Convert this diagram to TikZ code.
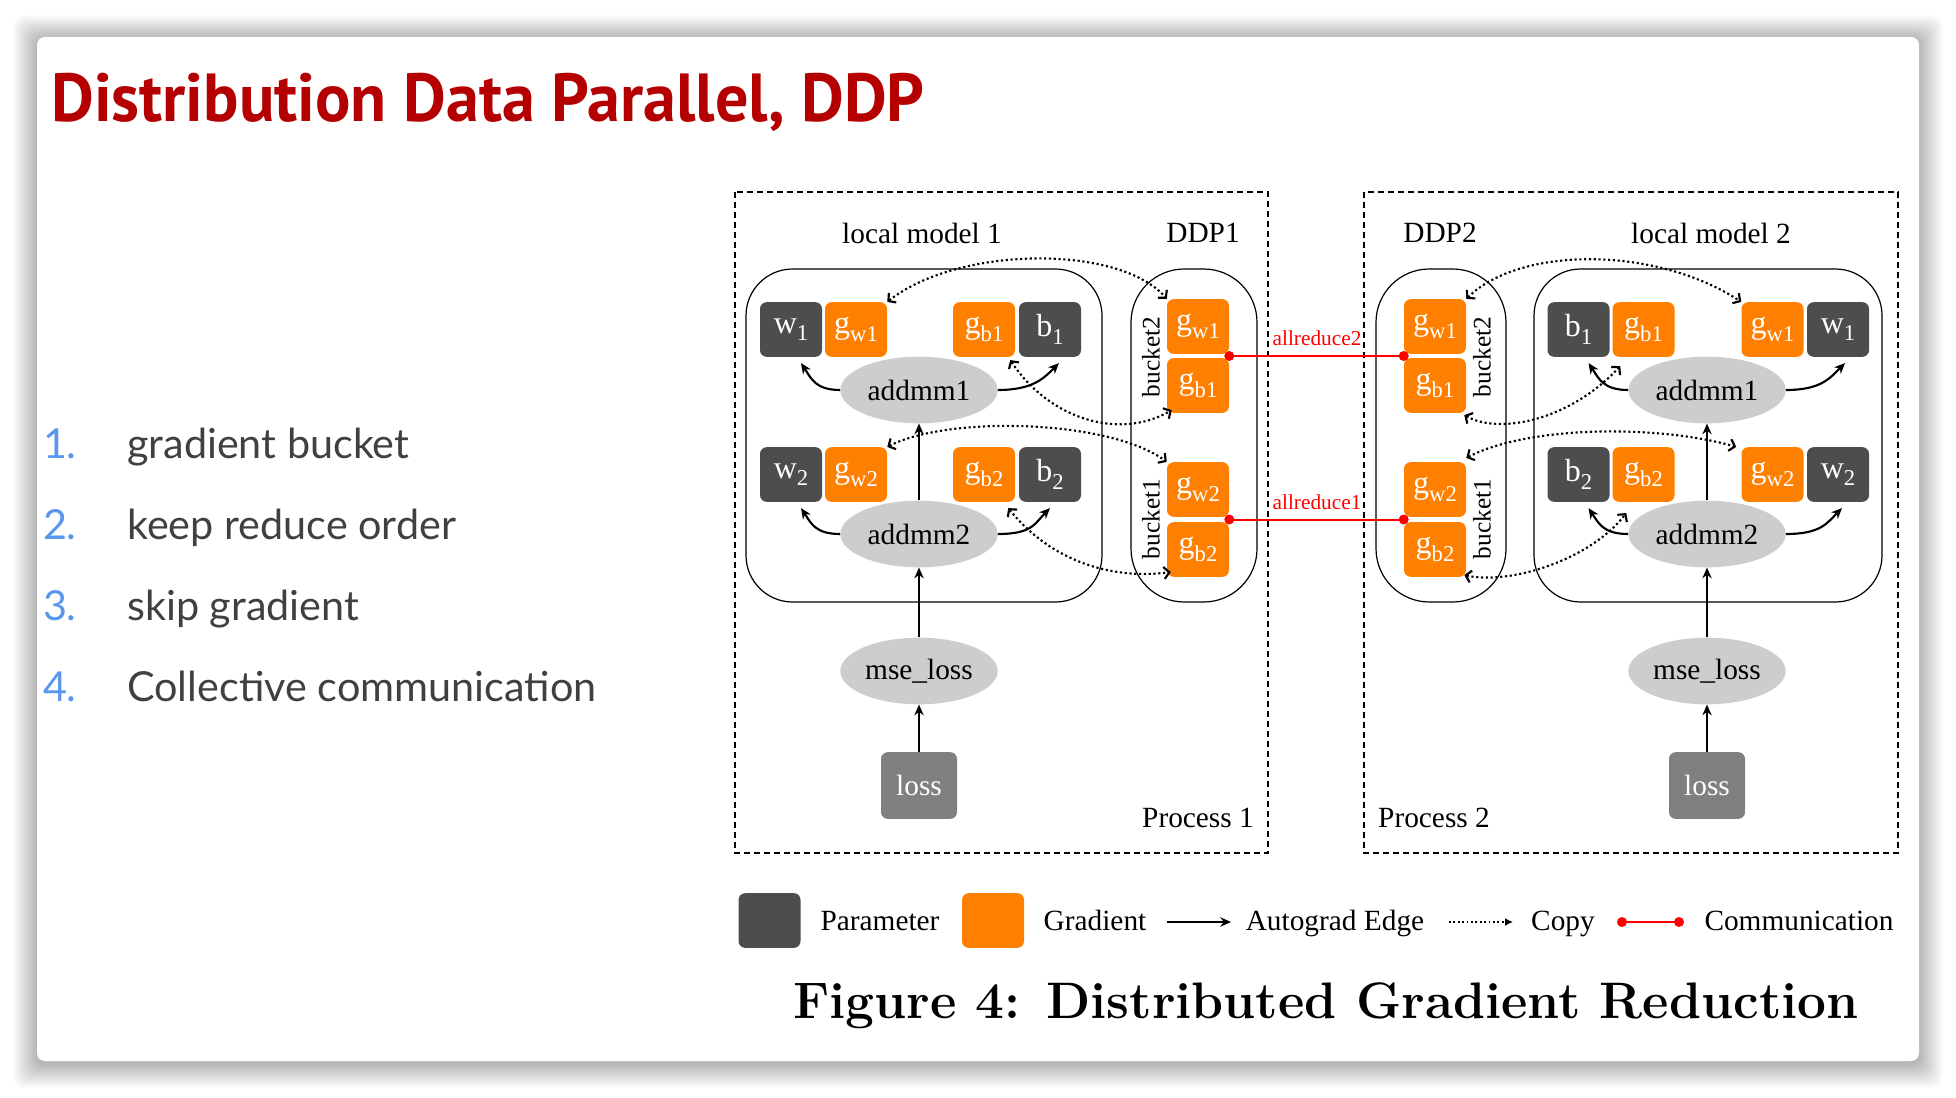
\documentclass[tikz,border=0pt]{standalone}
\usepackage{fontspec}
\usetikzlibrary{arrows.meta,calc,shapes.geometric}
\newfontfamily\timesfont{Liberation Serif}
\newfontfamily\titlefont{PT Sans}
\newfontfamily\listfont{Lato}
\definecolor{paramgray}{RGB}{77,77,77}
\definecolor{gradorange}{RGB}{255,128,0}
\definecolor{opgray}{RGB}{205,205,205}
\definecolor{lossgray}{RGB}{128,128,128}
\definecolor{titlered}{RGB}{180,0,0}
\definecolor{listblue}{RGB}{88,150,240}
\definecolor{listgray}{RGB}{64,64,64}
\definecolor{commred}{RGB}{255,0,0}
\newcommand{\gsub}[2]{#1\raisebox{-0.5ex}{\fontsize{17}{17}\selectfont #2}}
\tikzset{
    tensor/.style={rounded corners=5pt, minimum width=46.5pt, minimum height=41pt, inner sep=0pt, text=white, font=\fontsize{24}{24}\timesfont},
    param/.style={tensor, fill=paramgray},
    grad/.style={tensor, fill=gradorange},
    op/.style={ellipse, fill=opgray, minimum width=118pt, minimum height=50pt, inner sep=0pt, font=\fontsize{22}{24}\timesfont},
    lossbox/.style={rounded corners=5pt, fill=lossgray, minimum width=57pt, minimum height=50pt, inner sep=0pt, text=white, font=\fontsize{22}{24}\timesfont},
    txt/.style={inner sep=0pt, font=\fontsize{22}{24}\timesfont},
    autograd/.style={line width=1.6pt, -{Stealth[length=8pt,width=7pt]}},
    copyedge/.style={line width=1.6pt, dotted, {Straight Barb[length=4pt,width=9pt]}-{Straight Barb[length=4pt,width=9pt]}},
    comm/.style={line width=1.5pt, commred},
    procbox/.style={line width=1.6pt, dash pattern=on 4.5pt off 3pt},
    modelbox/.style={line width=0.9pt, rounded corners=35pt},
}
\begin{document}
\begin{tikzpicture}[x=0.75pt,y=0.75pt,yscale=-1,xscale=1]
    \fill[white] (0,0) rectangle (1956,1098);
    \useasboundingbox (0,0) rectangle (1956,1098);
    %card with soft shadow
    \foreach \d in {1, ..., 24} {
        \fill[black, opacity=0.011, rounded corners=8pt] (37 - \d, 39 - \d) rectangle (1919 + \d, 1064 + \d);
    }
    \fill[white, rounded corners=6pt] (37,37) rectangle (1919,1061);
    %
    %title and list
    \node[anchor=base west, inner sep=0pt, text=titlered] (title) at (51,122) {\resizebox{655pt}{\height}{\fontsize{51}{60}\titlefont\bfseries Distribution Data Parallel, DDP}};
    \foreach \n/\t [count=\i] in {1./gradient bucket, 2./keep reduce order, 3./skip gradient, 4./Collective communication} {
        \node[anchor=base east, inner sep=0pt, text=listblue, font=\fontsize{31}{36}\listfont] (num\i) at (77, {458 + (\i - 1) * 81}) {\n};
        \node[anchor=base west, inner sep=0pt, text=listgray, font=\fontsize{31}{36}\listfont] (item\i) at (127, {458 + (\i - 1) * 81}) {\t};
    }
    %
    %process boxes
    \draw[procbox] (735,192) rectangle (1268,853);
    \draw[procbox] (1364,192) rectangle (1898,853);
    \draw[modelbox] (746,269) rectangle (1102,602);
    \draw[modelbox, rounded corners=40pt] (1131,269) rectangle (1257,602);
    \draw[modelbox, rounded corners=40pt] (1376,269) rectangle (1506,602);
    \draw[modelbox] (1534,269) rectangle (1882,602);
    \node[txt] (lmA) at (922,233) {local model 1};
    \node[txt] (ddpA) at (1203,233) {DDP1};
    \node[txt] (ddpB) at (1440,233) {DDP2};
    \node[txt] (lmB) at (1711,233) {local model 2};
    \node[txt] (procA) at (1198,818) {Process 1};
    \node[txt] (procB) at (1434,818) {Process 2};
    %
    %local model 1
    \node[param] (wA1) at (791,329.5) {\gsub{w}{1}};
    \node[grad] (gwA1) at (856,329.5) {\gsub{g}{w1}};
    \node[grad] (gbA1) at (984,329.5) {\gsub{g}{b1}};
    \node[param] (bA1) at (1050,329.5) {\gsub{b}{1}};
    \node[param] (wA2) at (791,474.5) {\gsub{w}{2}};
    \node[grad] (gwA2) at (856,474.5) {\gsub{g}{w2}};
    \node[grad] (gbA2) at (984,474.5) {\gsub{g}{b2}};
    \node[param] (bA2) at (1050,474.5) {\gsub{b}{2}};
    \node[op] (addA1) at (919,390) {addmm1};
    \node[op] (addA2) at (919,534) {addmm2};
    \node[op] (mseA) at (919,671) {mse\_loss};
    \node[lossbox] (lossA) at (919,785.5) {loss};
    %DDP1
    \node[grad] (dgwA1) at (1198,326.5) {\gsub{g}{w1}};
    \node[grad] (dgbA1) at (1198,385.5) {\gsub{g}{b1}};
    \node[grad] (dgwA2) at (1198,489.5) {\gsub{g}{w2}};
    \node[grad] (dgbA2) at (1198,549.5) {\gsub{g}{b2}};
    \node[txt, rotate=90, font=\fontsize{19}{20}\timesfont] (bkA2) at (1151,357) {bucket2};
    \node[txt, rotate=90, font=\fontsize{19}{20}\timesfont] (bkA1) at (1151,519) {bucket1};
    %
    %local model 2
    \node[param] (bB1) at (1578.5,329.5) {\gsub{b}{1}};
    \node[grad] (gbB1) at (1643.5,329.5) {\gsub{g}{b1}};
    \node[grad] (gwB1) at (1772.5,329.5) {\gsub{g}{w1}};
    \node[param] (wB1) at (1838,329.5) {\gsub{w}{1}};
    \node[param] (bB2) at (1578.5,474.5) {\gsub{b}{2}};
    \node[grad] (gbB2) at (1643.5,474.5) {\gsub{g}{b2}};
    \node[grad] (gwB2) at (1772.5,474.5) {\gsub{g}{w2}};
    \node[param] (wB2) at (1838,474.5) {\gsub{w}{2}};
    \node[op] (addB1) at (1707,390) {addmm1};
    \node[op] (addB2) at (1707,534) {addmm2};
    \node[op] (mseB) at (1707,671) {mse\_loss};
    \node[lossbox] (lossB) at (1707,785.5) {loss};
    %DDP2
    \node[grad] (dgwB1) at (1435,326.5) {\gsub{g}{w1}};
    \node[grad] (dgbB1) at (1435,385.5) {\gsub{g}{b1}};
    \node[grad] (dgwB2) at (1435,489.5) {\gsub{g}{w2}};
    \node[grad] (dgbB2) at (1435,549.5) {\gsub{g}{b2}};
    \node[txt, rotate=90, font=\fontsize{19}{20}\timesfont] (bkB2) at (1482,357) {bucket2};
    \node[txt, rotate=90, font=\fontsize{19}{20}\timesfont] (bkB1) at (1482,519) {bucket1};
    %
    %autograd edges
    \draw[autograd] (lossA) -- (mseA);
    \draw[autograd] (mseA) -- (addA2);
    \draw[autograd] (addA2) -- (addA1);
    \draw[autograd] (lossB) -- (mseB);
    \draw[autograd] (mseB) -- (addB2);
    \draw[autograd] (addB2) -- (addB1);
    \draw[autograd] (addA1.west) .. controls +(-25,0) and +(10,15) .. ($(wA1.south)+(10,6)$);
    \draw[autograd] (addA1.east) .. controls +(35,0) and +(-15,15) .. ($(bA1.south)+(9,6)$);
    \draw[autograd] (addA2.west) .. controls +(-25,0) and +(10,15) .. ($(wA2.south)+(10,6)$);
    \draw[autograd] (addA2.east) .. controls +(35,0) and +(-15,15) .. ($(bA2.south)+(0,6)$);
    \draw[autograd] (addB1.west) .. controls +(-25,0) and +(10,15) .. ($(bB1.south)+(10,6)$);
    \draw[autograd] (addB1.east) .. controls +(35,0) and +(-15,15) .. ($(wB1.south)+(7,6)$);
    \draw[autograd] (addB2.west) .. controls +(-25,0) and +(10,15) .. ($(bB2.south)+(10,6)$);
    \draw[autograd] (addB2.east) .. controls +(35,0) and +(-15,15) .. ($(wB2.south)+(4,6)$);
    %
    %copy edges
    \draw[copyedge] (gwA1.north east) .. controls (960,245) and (1120,245) .. (dgwA1.north west);
    \draw[copyedge] ($(gbA1.south east)+(-5,3)$) .. controls (1050,420) and (1120,440) .. ($(dgbA1.south west)+(5,-3)$);
    \draw[copyedge] (gwA2.north east) .. controls (950,415) and (1110,420) .. (dgwA2.north west);
    \draw[copyedge] ($(gbA2.south east)+(-7,6)$) .. controls (1050,560) and (1110,580) .. ($(dgbA2.south west)+(4,-5)$);
    \draw[copyedge] (dgwB1.north east) .. controls (1520,246) and (1656,246) .. (gwB1.north west);
    \draw[copyedge] ($(dgbB1.south east)+(-2,2)$) .. controls (1500,435) and (1570,420) .. ($(gbB1.south west)+(8,9)$);
    \draw[copyedge] ($(dgwB2.north east)+(0,-4)$) .. controls (1530,425) and (1660,425) .. ($(gwB2.north west)+(-5,0)$);
    \draw[copyedge] ($(dgbB2.south east)+(-2,-2)$) .. controls (1510,585) and (1590,560) .. ($(gbB2.south west)+(14,11)$);
    %
    %communication
    \coordinate (rA2) at ($(dgwA1.south east)!0.5!(dgbA1.north east)$);
    \coordinate (rB2) at ($(dgwB1.south west)!0.5!(dgbB1.north west)$);
    \coordinate (rA1) at ($(dgwA2.south east)!0.5!(dgbA2.north east)$);
    \coordinate (rB1) at ($(dgwB2.south west)!0.5!(dgbB2.north west)$);
    \draw[comm] (rA2) -- (rB2);
    \draw[comm] (rA1) -- (rB1);
    \fill[commred] (rA2) circle (5) (rB2) circle (5) (rA1) circle (5) (rB1) circle (5);
    \node[inner sep=0pt, text=commred, font=\fontsize{16}{18}\timesfont] (arA2) at (1317,338) {allreduce2};
    \node[inner sep=0pt, text=commred, font=\fontsize{16}{18}\timesfont] (arA1) at (1317,502) {allreduce1};
    %
    %legend
    \node[param] (legP) at (769.5,920.5) {};
    \node[txt, anchor=base] (legPt) at (880,930) {Parameter};
    \node[grad] (legG) at (993,920.5) {};
    \node[txt, anchor=base] (legGt) at (1095,930) {Gradient};
    \coordinate (legA0) at (1167,922);
    \coordinate (legA1) at (1231,922);
    \draw[autograd] (legA0) -- (legA1);
    \node[txt, anchor=base] (legAt) at (1335,930) {Autograd Edge};
    \coordinate (legC0) at (1449,922);
    \coordinate (legC1) at (1513,922);
    \draw[line width=1.3pt, dotted, -{Latex[length=6pt,width=6pt]}] (legC0) -- (legC1);
    \node[txt, anchor=base] (legCt) at (1563,930) {Copy};
    \coordinate (legR0) at (1622,922);
    \coordinate (legR1) at (1679,922);
    \draw[comm] (legR0) -- (legR1);
    \fill[commred] (legR0) circle (5) (legR1) circle (5);
    \node[txt, anchor=base] (legRt) at (1799,930) {Communication};
    %
    %caption
    \node[inner sep=0pt, font=\fontsize{38.5}{44}\selectfont\bfseries] (caption) at (1326,1006) {Figure 4: Distributed Gradient Reduction};
\end{tikzpicture}
\end{document}
